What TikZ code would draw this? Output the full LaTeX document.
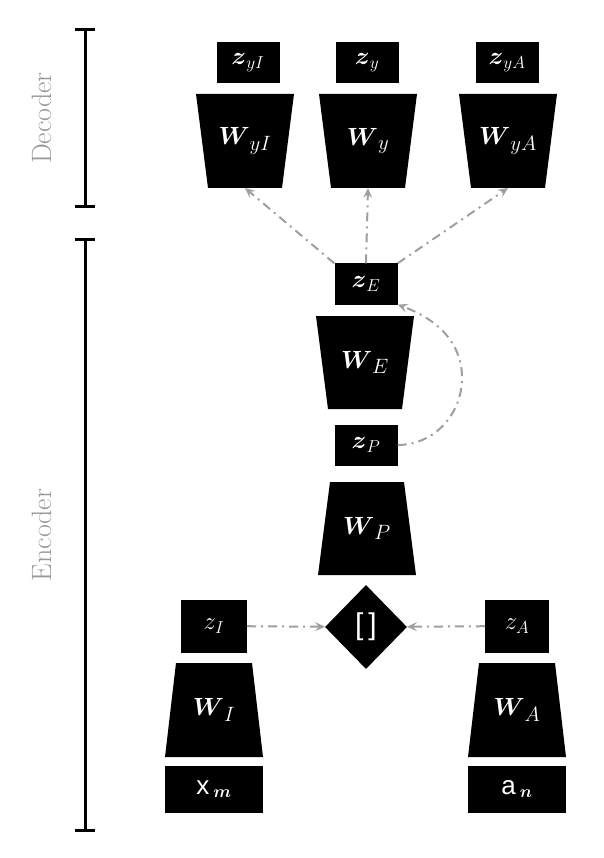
\documentclass[tikz,border=0pt]{standalone}
\usepackage{amsmath,amssymb}
\usepackage{fontspec}
\newfontfamily\sansf{Liberation Sans}
\usetikzlibrary{positioning,shapes.geometric,arrows.meta}

\tikzset{
  zbox/.style={shape=rectangle,fill=black,text=white,minimum width=63pt,minimum height=41pt,inner sep=0pt,font=\fontsize{24}{24}\selectfont},
  inbox/.style={shape=rectangle,fill=black,text=white,minimum width=98pt,minimum height=47pt,inner sep=0pt,font=\fontsize{26}{26}\selectfont},
  flow/.style={->,>={Stealth[length=10pt,width=9pt,inset=4pt]},draw=gray!75,line width=2pt,dash pattern=on 9pt off 5pt on 2pt off 5pt},
  bar/.style={line width=3pt},
  side/.style={text=gray!80,rotate=90,font=\fontsize{28}{28}\selectfont},
}
% trapezoid block: name, cx, ytop, ybot, half top, half bottom, label
\newcommand{\wblock}[7]{%
  \fill (#2-#5,#3) -- (#2+#5,#3) -- (#2+#6,#4) -- (#2-#6,#4) -- cycle;
  \node[text=white,font=\fontsize{30}{30}\selectfont] (#1) at (#2,{(#3+#4)/2}) {#7};
  \coordinate (#1b) at (#2,#4);
}

\begin{document}
\begin{tikzpicture}[x=1pt,y=-1pt]
	\useasboundingbox (0,0) rectangle (604,858);
	% side bars
	\draw[bar] (75,30) -- (95,30) (85,30) -- (85,207) (75,207) -- (95,207);
	\draw[bar] (75,240) -- (95,240) (85,240) -- (85,830) (75,830) -- (95,830);
	\node[side] (dec) at (42,118) {Decoder};
	\node[side] (enc) at (42,535) {Encoder};

	% decoder blocks
	\node[zbox] (zyI) at (248,63) {$\boldsymbol{z}_{yI}$};
	\node[zbox] (zy) at (367,63) {$\boldsymbol{z}_{y}$};
	\node[zbox] (zyA) at (507,63) {$\boldsymbol{z}_{yA}$};
	\wblock{WyI}{245}{94}{188}{49}{37}{$\boldsymbol{W}_{yI}$}
	\wblock{Wy}{368}{94}{188}{49}{37}{$\boldsymbol{W}_{y}$}
	\wblock{WyA}{508}{94}{188}{49}{37}{$\boldsymbol{W}_{yA}$}

	% encoder middle column
	\node[zbox] (zE) at (366,284) {$\boldsymbol{z}_{E}$};
	\wblock{WE}{365}{316}{409}{49}{37}{$\boldsymbol{W}_{E}$}
	\node[zbox] (zP) at (366,445) {$\boldsymbol{z}_{P}$};
	\wblock{WP}{367}{482}{575}{37}{49}{$\boldsymbol{W}_{P}$}
	\node[shape=diamond,fill=black,text=white,minimum width=82pt,minimum height=84pt,inner sep=0pt,font=\fontsize{30}{30}\selectfont\sansf] (cat) at (366,627) {[\,]};

	% encoder inputs
	\node[zbox,minimum width=66pt,minimum height=53pt] (zI) at (214,626) {$z_{I}$};
	\node[zbox,minimum width=64pt,minimum height=53pt] (zA) at (517,626) {$z_{A}$};
	\wblock{WI}{214}{663}{757}{38}{49}{$\boldsymbol{W}_{I}$}
	\wblock{WA}{517}{663}{757}{38}{49}{$\boldsymbol{W}_{A}$}
	\node[inbox] (xm) at (214,789) {{\sansf x}$\,_{\boldsymbol{m}}$};
	\node[inbox] (an) at (517,789) {{\sansf a}$\,_{\boldsymbol{n}}$};

	% connections
	\draw[flow] (zE.north west) to (WyIb);
	\draw[flow] (zE.north) to (Wyb);
	\draw[flow] (zE.north east) to (WyAb);
	\draw[flow] (zP.east) to[out=0,in=-90] (462,378) to[out=90,in=-20] (zE.south east);
	\draw[flow] (zI) to (cat);
	\draw[flow] (zA) to (cat);
\end{tikzpicture}
\end{document}
